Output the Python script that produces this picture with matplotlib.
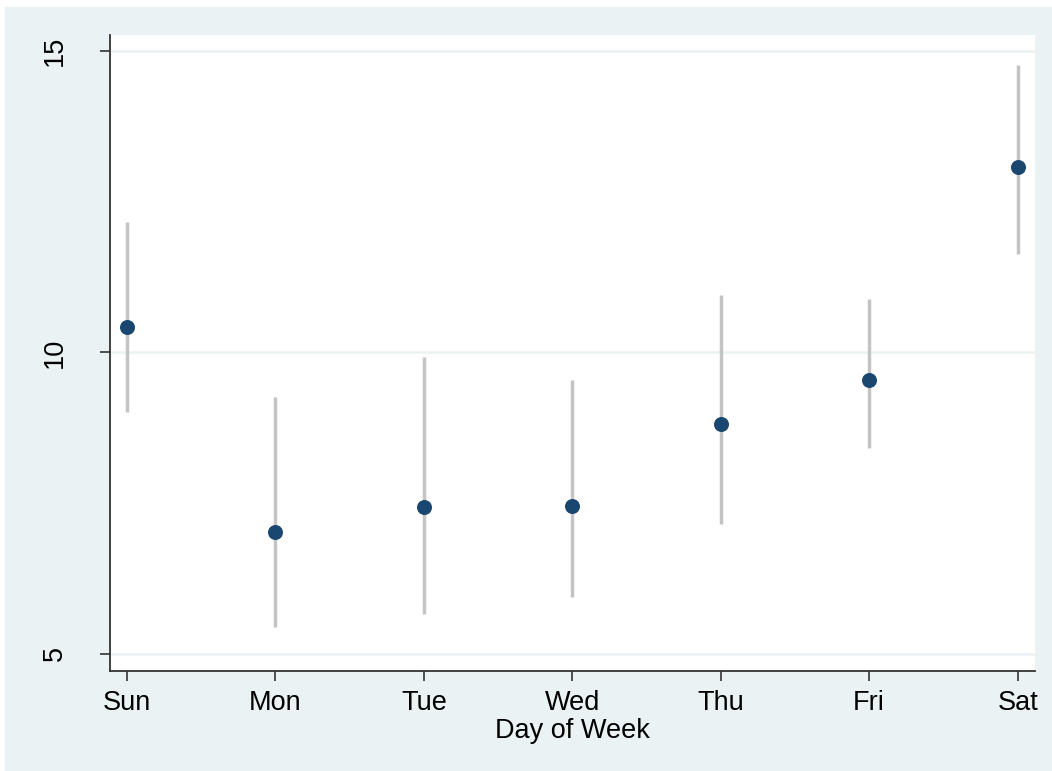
import matplotlib.pyplot as plt
from matplotlib.patches import Rectangle

# mean and 95% interval by day of week
days = ['Sun', 'Mon', 'Tue', 'Wed', 'Thu', 'Fri', 'Sat']
means = [10.43, 7.03, 7.43, 7.46, 8.81, 9.55, 13.08]
ci_low = [9.02, 5.44, 5.67, 5.94, 7.15, 8.41, 11.64]
ci_high = [12.16, 9.27, 9.93, 9.54, 10.96, 10.88, 14.76]
yticks = [5, 10, 15]

BG = '#EAF2F3'
NAVY = '#1A476F'

plt.rcParams['font.family'] = ['Liberation Sans', 'DejaVu Sans']

fig = plt.figure(figsize=(10.52, 7.71), dpi=100, facecolor='white')
fig.patches.append(Rectangle((5 / 1052, 0), 1, 1 - 7 / 771,
                             transform=fig.transFigure, color=BG, zorder=-10))

ax = fig.add_axes([110 / 1052, 100 / 771, 925 / 1052, 636 / 771])
ax.set_facecolor('white')

x = list(range(len(days)))
for xi, lo, hi in zip(x, ci_low, ci_high):
    ax.plot([xi, xi], [lo, hi], color='#C4C4C4', lw=2.5, solid_capstyle='butt', zorder=2)
ax.plot(x, means, 'o', color=NAVY, markersize=10.8, markeredgewidth=0, zorder=3)

for yv in yticks:
    ax.axhline(yv, color=BG, lw=1.8, zorder=1)

ax.set_xlim(-0.114, 6.117)
ax.set_ylim(4.718, 15.265)
ax.set_xticks(x)
ax.set_xticklabels(days, fontsize=19.5)
ax.set_yticks(yticks)
ax.set_yticklabels([str(v) for v in yticks], fontsize=19.5, rotation=90, va='center')
ax.tick_params(axis='x', length=7, width=1.2, color='#333333', pad=7)
ax.tick_params(axis='y', length=7, width=1.2, color='#333333', pad=23)

for side in ['top', 'right']:
    ax.spines[side].set_visible(False)
for side in ['left', 'bottom']:
    ax.spines[side].set_color('#333333')
    ax.spines[side].set_linewidth(1.3)

ax.set_xlabel('Day of Week', fontsize=19.5, labelpad=1)

fig.savefig('out.png', dpi=100, facecolor=fig.get_facecolor())
